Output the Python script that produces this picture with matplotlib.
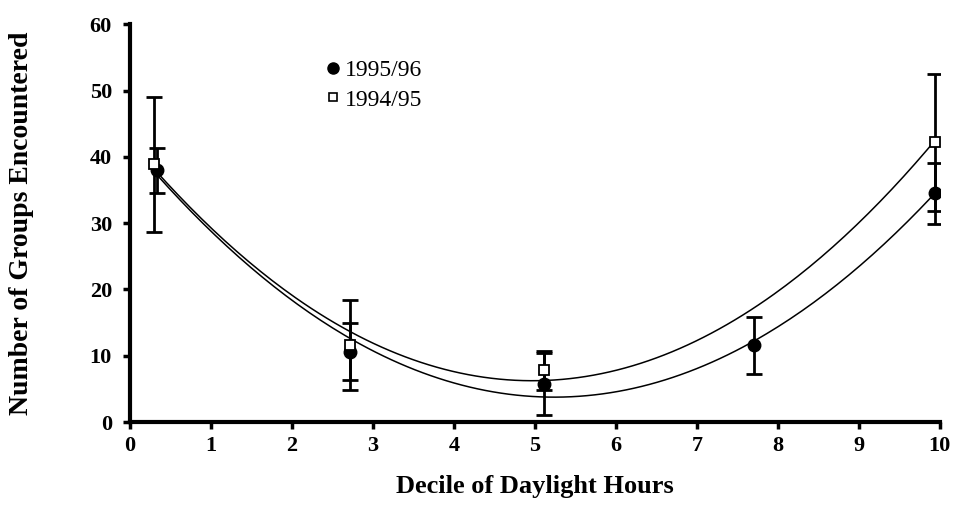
import numpy as np
import matplotlib
matplotlib.use("Agg")
import matplotlib.pyplot as plt
from matplotlib.lines import Line2D

plt.rcParams["font.family"] = ["Liberation Serif", "DejaVu Serif"]

# 1995/96 season (filled circles)
x_9596 = [0.33, 2.72, 5.11, 7.70, 9.94]
y_9596 = [38.0, 10.6, 5.7, 11.6, 34.5]
err_9596 = [3.4, 4.3, 4.7, 4.3, 4.6]

# 1994/95 season (open squares)
x_9495 = [0.30, 2.72, 5.11, 9.94]
y_9495 = [38.9, 11.6, 7.8, 42.2]
err_9495 = [10.2, 6.8, 2.9, 10.3]

xticks = list(range(0, 11))
yticks = [0, 10, 20, 30, 40, 50, 60]

fig = plt.figure(figsize=(9.56, 5.16), dpi=100)
ax = fig.add_axes([0.136, 0.182, 0.847, 0.771])

# quadratic trend lines
for xs, ys in [(x_9596, y_9596), (x_9495, y_9495)]:
    c = np.polyfit(xs, ys, 2)
    xf = np.linspace(min(xs), max(xs), 200)
    ax.plot(xf, np.polyval(c, xf), color="black", lw=1.1, zorder=2)

ax.errorbar(x_9495, y_9495, yerr=err_9495, fmt="none", ecolor="black",
            elinewidth=2, capsize=6, capthick=2, zorder=3)
ax.errorbar(x_9596, y_9596, yerr=err_9596, fmt="none", ecolor="black",
            elinewidth=2, capsize=6, capthick=2, zorder=3)
ax.plot(x_9596, y_9596, "o", color="black", ms=9, zorder=4)
ax.plot(x_9495, y_9495, "s", mfc="white", mec="black", mew=1.3, ms=7, zorder=5)

ax.set_xlim(0, 10)
ax.set_ylim(0, 60)
ax.set_xticks(xticks)
ax.set_yticks(yticks)
for s in ["top", "right"]:
    ax.spines[s].set_visible(False)
for s in ["left", "bottom"]:
    ax.spines[s].set_linewidth(3)
ax.tick_params(width=2.5, length=5, labelsize=16)
ax.tick_params(axis="x", pad=5)
ax.tick_params(axis="y", pad=8)
for lab in ax.get_xticklabels() + ax.get_yticklabels():
    lab.set_fontweight("bold")

ax.set_xlabel("Decile of Daylight Hours", fontsize=19, fontweight="bold", labelpad=14)
ax.set_ylabel("Number of Groups Encountered", fontsize=20, fontweight="bold", labelpad=40)

handles = [
    Line2D([], [], marker="o", ls="none", color="black", ms=8),
    Line2D([], [], marker="s", ls="none", mfc="white", mec="black", mew=1.2, ms=6),
]
ax.legend(handles, ["1995/96", "1994/95"], loc="upper left", bbox_to_anchor=(0.21, 0.965),
          frameon=False, fontsize=17, handletextpad=0.0, handlelength=1.0,
          labelspacing=0.35)

fig.savefig("out.png", dpi=100)
